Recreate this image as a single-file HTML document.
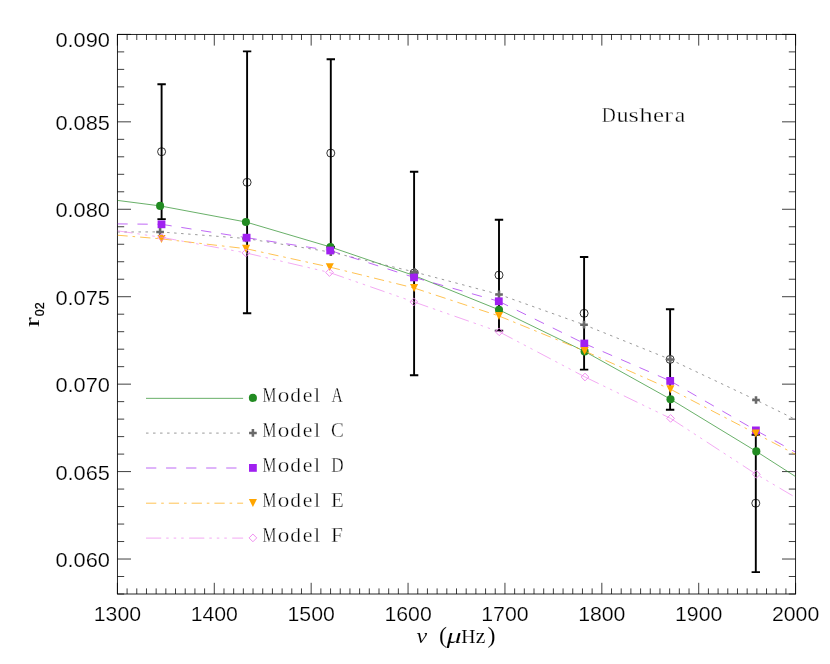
<!DOCTYPE html>
<html><head><meta charset="utf-8"><title>r02 vs nu</title>
<style>
html,body{margin:0;padding:0;background:#fff;}
body{width:830px;height:664px;overflow:hidden;font-family:"Liberation Sans",sans-serif;}
svg{display:block;will-change:transform}
.t{font-family:"Liberation Sans",sans-serif;font-size:19.4px;fill:#000;stroke:#fff;stroke-width:0.2px}
.s{font-family:"Liberation Serif",serif;font-size:20px;fill:#000;stroke:#fff;stroke-width:0.2px}
</style></head><body>
<svg width="830" height="664" viewBox="0 0 830 664">
<rect width="830" height="664" fill="#fff"/>
<defs><clipPath id="c"><rect x="117.4" y="34.4" width="678.2" height="559.6"/></clipPath></defs>
<path d="M117.40 34.4v11.2M117.40 594.0v-11.2M127.09 34.4v5.6M127.09 594.0v-5.6M136.78 34.4v5.6M136.78 594.0v-5.6M146.47 34.4v5.6M146.47 594.0v-5.6M156.15 34.4v5.6M156.15 594.0v-5.6M165.84 34.4v5.6M165.84 594.0v-5.6M175.53 34.4v5.6M175.53 594.0v-5.6M185.22 34.4v5.6M185.22 594.0v-5.6M194.91 34.4v5.6M194.91 594.0v-5.6M204.60 34.4v5.6M204.60 594.0v-5.6M214.29 34.4v11.2M214.29 594.0v-11.2M223.97 34.4v5.6M223.97 594.0v-5.6M233.66 34.4v5.6M233.66 594.0v-5.6M243.35 34.4v5.6M243.35 594.0v-5.6M253.04 34.4v5.6M253.04 594.0v-5.6M262.73 34.4v5.6M262.73 594.0v-5.6M272.42 34.4v5.6M272.42 594.0v-5.6M282.11 34.4v5.6M282.11 594.0v-5.6M291.79 34.4v5.6M291.79 594.0v-5.6M301.48 34.4v5.6M301.48 594.0v-5.6M311.17 34.4v11.2M311.17 594.0v-11.2M320.86 34.4v5.6M320.86 594.0v-5.6M330.55 34.4v5.6M330.55 594.0v-5.6M340.24 34.4v5.6M340.24 594.0v-5.6M349.93 34.4v5.6M349.93 594.0v-5.6M359.61 34.4v5.6M359.61 594.0v-5.6M369.30 34.4v5.6M369.30 594.0v-5.6M378.99 34.4v5.6M378.99 594.0v-5.6M388.68 34.4v5.6M388.68 594.0v-5.6M398.37 34.4v5.6M398.37 594.0v-5.6M408.06 34.4v11.2M408.06 594.0v-11.2M417.75 34.4v5.6M417.75 594.0v-5.6M427.43 34.4v5.6M427.43 594.0v-5.6M437.12 34.4v5.6M437.12 594.0v-5.6M446.81 34.4v5.6M446.81 594.0v-5.6M456.50 34.4v5.6M456.50 594.0v-5.6M466.19 34.4v5.6M466.19 594.0v-5.6M475.88 34.4v5.6M475.88 594.0v-5.6M485.57 34.4v5.6M485.57 594.0v-5.6M495.25 34.4v5.6M495.25 594.0v-5.6M504.94 34.4v11.2M504.94 594.0v-11.2M514.63 34.4v5.6M514.63 594.0v-5.6M524.32 34.4v5.6M524.32 594.0v-5.6M534.01 34.4v5.6M534.01 594.0v-5.6M543.70 34.4v5.6M543.70 594.0v-5.6M553.39 34.4v5.6M553.39 594.0v-5.6M563.07 34.4v5.6M563.07 594.0v-5.6M572.76 34.4v5.6M572.76 594.0v-5.6M582.45 34.4v5.6M582.45 594.0v-5.6M592.14 34.4v5.6M592.14 594.0v-5.6M601.83 34.4v11.2M601.83 594.0v-11.2M611.52 34.4v5.6M611.52 594.0v-5.6M621.21 34.4v5.6M621.21 594.0v-5.6M630.89 34.4v5.6M630.89 594.0v-5.6M640.58 34.4v5.6M640.58 594.0v-5.6M650.27 34.4v5.6M650.27 594.0v-5.6M659.96 34.4v5.6M659.96 594.0v-5.6M669.65 34.4v5.6M669.65 594.0v-5.6M679.34 34.4v5.6M679.34 594.0v-5.6M689.03 34.4v5.6M689.03 594.0v-5.6M698.71 34.4v11.2M698.71 594.0v-11.2M708.40 34.4v5.6M708.40 594.0v-5.6M718.09 34.4v5.6M718.09 594.0v-5.6M727.78 34.4v5.6M727.78 594.0v-5.6M737.47 34.4v5.6M737.47 594.0v-5.6M747.16 34.4v5.6M747.16 594.0v-5.6M756.85 34.4v5.6M756.85 594.0v-5.6M766.53 34.4v5.6M766.53 594.0v-5.6M776.22 34.4v5.6M776.22 594.0v-5.6M785.91 34.4v5.6M785.91 594.0v-5.6M795.60 34.4v11.2M795.60 594.0v-11.2M117.4 34.40h13.6M795.6 34.40h-13.6M117.4 51.89h6.8M795.6 51.89h-6.8M117.4 69.38h6.8M795.6 69.38h-6.8M117.4 86.86h6.8M795.6 86.86h-6.8M117.4 104.35h6.8M795.6 104.35h-6.8M117.4 121.84h13.6M795.6 121.84h-13.6M117.4 139.33h6.8M795.6 139.33h-6.8M117.4 156.81h6.8M795.6 156.81h-6.8M117.4 174.30h6.8M795.6 174.30h-6.8M117.4 191.79h6.8M795.6 191.79h-6.8M117.4 209.27h13.6M795.6 209.27h-13.6M117.4 226.76h6.8M795.6 226.76h-6.8M117.4 244.25h6.8M795.6 244.25h-6.8M117.4 261.74h6.8M795.6 261.74h-6.8M117.4 279.22h6.8M795.6 279.22h-6.8M117.4 296.71h13.6M795.6 296.71h-13.6M117.4 314.20h6.8M795.6 314.20h-6.8M117.4 331.69h6.8M795.6 331.69h-6.8M117.4 349.18h6.8M795.6 349.18h-6.8M117.4 366.66h6.8M795.6 366.66h-6.8M117.4 384.15h13.6M795.6 384.15h-13.6M117.4 401.64h6.8M795.6 401.64h-6.8M117.4 419.12h6.8M795.6 419.12h-6.8M117.4 436.61h6.8M795.6 436.61h-6.8M117.4 454.10h6.8M795.6 454.10h-6.8M117.4 471.59h13.6M795.6 471.59h-13.6M117.4 489.07h6.8M795.6 489.07h-6.8M117.4 506.56h6.8M795.6 506.56h-6.8M117.4 524.05h6.8M795.6 524.05h-6.8M117.4 541.54h6.8M795.6 541.54h-6.8M117.4 559.02h13.6M795.6 559.02h-13.6M117.4 576.51h6.8M795.6 576.51h-6.8M117.4 594.00h6.8M795.6 594.00h-6.8" stroke="#000" stroke-width="0.75" fill="none"/>
<rect x="117.4" y="34.4" width="678.2" height="559.6" fill="none" stroke="#000" stroke-width="0.85"/>
<text class="t" x="117.4" y="621.2" text-anchor="middle" textLength="47.3" lengthAdjust="spacingAndGlyphs">1300</text>
<text class="t" x="214.3" y="621.2" text-anchor="middle" textLength="47.3" lengthAdjust="spacingAndGlyphs">1400</text>
<text class="t" x="311.2" y="621.2" text-anchor="middle" textLength="47.3" lengthAdjust="spacingAndGlyphs">1500</text>
<text class="t" x="408.1" y="621.2" text-anchor="middle" textLength="47.3" lengthAdjust="spacingAndGlyphs">1600</text>
<text class="t" x="504.9" y="621.2" text-anchor="middle" textLength="47.3" lengthAdjust="spacingAndGlyphs">1700</text>
<text class="t" x="601.8" y="621.2" text-anchor="middle" textLength="47.3" lengthAdjust="spacingAndGlyphs">1800</text>
<text class="t" x="698.7" y="621.2" text-anchor="middle" textLength="47.3" lengthAdjust="spacingAndGlyphs">1900</text>
<text class="t" x="795.6" y="621.2" text-anchor="middle" textLength="47.3" lengthAdjust="spacingAndGlyphs">2000</text>
<text class="t" x="110.0" y="47.0" text-anchor="end" textLength="54.6" lengthAdjust="spacingAndGlyphs">0.090</text>
<text class="t" x="110.0" y="129.7" text-anchor="end" textLength="54.6" lengthAdjust="spacingAndGlyphs">0.085</text>
<text class="t" x="110.0" y="217.2" text-anchor="end" textLength="54.6" lengthAdjust="spacingAndGlyphs">0.080</text>
<text class="t" x="110.0" y="304.6" text-anchor="end" textLength="54.6" lengthAdjust="spacingAndGlyphs">0.075</text>
<text class="t" x="110.0" y="392.1" text-anchor="end" textLength="54.6" lengthAdjust="spacingAndGlyphs">0.070</text>
<text class="t" x="110.0" y="479.5" text-anchor="end" textLength="54.6" lengthAdjust="spacingAndGlyphs">0.065</text>
<text class="t" x="110.0" y="566.9" text-anchor="end" textLength="54.6" lengthAdjust="spacingAndGlyphs">0.060</text>
<g clip-path="url(#c)">
<path d="M161.6 84.2V219.1M157.4 84.2h8.4M157.4 219.1h8.4M247.1 51.4V313.2M242.9 51.4h8.4M242.9 313.2h8.4M330.8 59.3V246.9M326.6 59.3h8.4M326.6 246.9h8.4M414.1 171.7V375.2M409.9 171.7h8.4M409.9 375.2h8.4M499.0 219.8V330.6M494.8 219.8h8.4M494.8 330.6h8.4M584.1 257.0V369.6M579.9 257.0h8.4M579.9 369.6h8.4M670.1 309.3V409.7M665.9 309.3h8.4M665.9 409.7h8.4M755.8 434.8V572.1M751.6 434.8h8.4M751.6 572.1h8.4" stroke="#000" stroke-width="1.9" fill="none"/>
<circle cx="161.6" cy="151.7" r="4.0" fill="none" stroke="#000" stroke-width="0.8"/>
<circle cx="247.1" cy="182.3" r="4.0" fill="none" stroke="#000" stroke-width="0.8"/>
<circle cx="330.8" cy="153.1" r="4.0" fill="none" stroke="#000" stroke-width="0.8"/>
<circle cx="414.1" cy="273.0" r="4.0" fill="none" stroke="#000" stroke-width="0.8"/>
<circle cx="499.0" cy="275.1" r="4.0" fill="none" stroke="#000" stroke-width="0.8"/>
<circle cx="584.1" cy="313.3" r="4.0" fill="none" stroke="#000" stroke-width="0.8"/>
<circle cx="670.1" cy="359.4" r="4.0" fill="none" stroke="#000" stroke-width="0.8"/>
<circle cx="755.8" cy="503.2" r="4.0" fill="none" stroke="#000" stroke-width="0.8"/>
<path d="M117.4 200.4L160.1 205.9M160.1 205.9L245.9 222.0M245.9 222.0L330.5 247.0M330.5 247.0L414.0 275.5M414.0 275.5L499.0 309.8M499.0 309.8L584.6 351.4M584.6 351.4L670.5 399.2M670.5 399.2L756.3 451.4M756.3 451.4L795.6 476.6" stroke="#228B22" stroke-width="0.68" fill="none"/>
<circle cx="160.1" cy="205.9" r="4.05" fill="#228B22"/>
<circle cx="245.9" cy="222.0" r="4.05" fill="#228B22"/>
<circle cx="330.5" cy="247.0" r="4.05" fill="#228B22"/>
<circle cx="414.0" cy="275.5" r="4.05" fill="#228B22"/>
<circle cx="499.0" cy="309.8" r="4.05" fill="#228B22"/>
<circle cx="584.6" cy="351.4" r="4.05" fill="#228B22"/>
<circle cx="670.5" cy="399.2" r="4.05" fill="#228B22"/>
<circle cx="756.3" cy="451.4" r="4.05" fill="#228B22"/>
<path d="M117.4 232.0L160.1 231.9M160.1 231.9L246.0 238.5M246.0 238.5L330.8 252.1M330.8 252.1L414.6 272.0M414.6 272.0L499.0 294.4M499.0 294.4L584.0 324.7M584.0 324.7L670.2 359.4M670.2 359.4L756.0 400.0L795.6 419.5" stroke="#696969" stroke-width="0.68" fill="none" stroke-dasharray="2.5 4.52"/>
<path d="M156.25 231.9H163.95M160.1 228.05V235.75" stroke="#696969" stroke-width="2.55" fill="none"/>
<path d="M242.15 238.5H249.85M246.0 234.65V242.35" stroke="#696969" stroke-width="2.55" fill="none"/>
<path d="M326.95 252.1H334.65M330.8 248.25V255.95" stroke="#696969" stroke-width="2.55" fill="none"/>
<path d="M410.75 272.0H418.45M414.6 268.15V275.85" stroke="#696969" stroke-width="2.55" fill="none"/>
<path d="M495.15 294.4H502.85M499.0 290.55V298.25" stroke="#696969" stroke-width="2.55" fill="none"/>
<path d="M580.15 324.7H587.85M584.0 320.85V328.55" stroke="#696969" stroke-width="2.55" fill="none"/>
<path d="M666.35 359.4H674.05M670.2 355.55V363.25" stroke="#696969" stroke-width="2.55" fill="none"/>
<path d="M752.15 400.0H759.85M756.0 396.15V403.85" stroke="#696969" stroke-width="2.55" fill="none"/>
<path d="M117.4 223.9L161.5 224.3M161.5 224.3L246.6 237.7M246.6 237.7L330.2 250.5M330.2 250.5L414.0 277.4M414.0 277.4L498.8 301.3M498.8 301.3L584.3 343.5M584.3 343.5L670.2 380.9M670.2 380.9L755.9 430.4L795.6 452.2" stroke="#A020F0" stroke-width="0.68" fill="none" stroke-dasharray="10.3 9.75"/>
<rect x="157.6" y="220.4" width="7.8" height="7.8" fill="#A020F0"/>
<rect x="242.7" y="233.8" width="7.8" height="7.8" fill="#A020F0"/>
<rect x="326.3" y="246.6" width="7.8" height="7.8" fill="#A020F0"/>
<rect x="410.1" y="273.5" width="7.8" height="7.8" fill="#A020F0"/>
<rect x="494.9" y="297.4" width="7.8" height="7.8" fill="#A020F0"/>
<rect x="580.4" y="339.6" width="7.8" height="7.8" fill="#A020F0"/>
<rect x="666.3" y="377.0" width="7.8" height="7.8" fill="#A020F0"/>
<rect x="752.0" y="426.5" width="7.8" height="7.8" fill="#A020F0"/>
<path d="M117.4 235.2L161.5 238.9M161.5 238.9L246.1 248.7M246.1 248.7L329.8 267.1M329.8 267.1L414.1 288.0M414.1 288.0L499.0 316.0M499.0 316.0L584.6 351.0M584.6 351.0L670.4 389.2M670.4 389.2L755.8 433.5L795.6 454.4" stroke="#FFA500" stroke-width="0.68" fill="none" stroke-dasharray="10.3 4.9 2.6 5.0"/>
<path d="M157.45 235.05H165.55L161.5 242.95Z" fill="#FFA500"/>
<path d="M242.05 244.80H250.15L246.1 252.70Z" fill="#FFA500"/>
<path d="M325.75 263.20H333.85L329.8 271.10Z" fill="#FFA500"/>
<path d="M410.05 284.10H418.15L414.1 292.00Z" fill="#FFA500"/>
<path d="M494.95 312.10H503.05L499.0 320.00Z" fill="#FFA500"/>
<path d="M580.55 347.10H588.65L584.6 355.00Z" fill="#FFA500"/>
<path d="M666.35 385.30H674.45L670.4 393.20Z" fill="#FFA500"/>
<path d="M751.75 429.60H759.85L755.8 437.50Z" fill="#FFA500"/>
<path d="M117.4 230.8L161.5 237.3M161.5 237.3L245.9 252.9M245.9 252.9L329.5 272.5M329.5 272.5L413.8 301.9M413.8 301.9L499.2 331.8M499.2 331.8L585.0 377.0M585.0 377.0L670.6 418.4M670.6 418.4L756.3 474.3L795.6 497.5" stroke="#EE82EE" stroke-width="0.68" fill="none" stroke-dasharray="15.2 5 2.5 5 2.5 5 2.5 5.4"/>
<path d="M157.65 237.3L161.5 233.45L165.35 237.3L161.5 241.15Z" fill="none" stroke="#EE82EE" stroke-width="0.9"/>
<path d="M242.05 252.9L245.9 249.05L249.75 252.9L245.9 256.75Z" fill="none" stroke="#EE82EE" stroke-width="0.9"/>
<path d="M325.65 272.5L329.5 268.65L333.35 272.5L329.5 276.35Z" fill="none" stroke="#EE82EE" stroke-width="0.9"/>
<path d="M409.95 301.9L413.8 298.05L417.65 301.9L413.8 305.75Z" fill="none" stroke="#EE82EE" stroke-width="0.9"/>
<path d="M495.35 331.8L499.2 327.95L503.05 331.8L499.2 335.65Z" fill="none" stroke="#EE82EE" stroke-width="0.9"/>
<path d="M581.15 377.0L585.0 373.15L588.85 377.0L585.0 380.85Z" fill="none" stroke="#EE82EE" stroke-width="0.9"/>
<path d="M666.75 418.4L670.6 414.55L674.45 418.4L670.6 422.25Z" fill="none" stroke="#EE82EE" stroke-width="0.9"/>
<path d="M752.45 474.3L756.3 470.45L760.15 474.3L756.3 478.15Z" fill="none" stroke="#EE82EE" stroke-width="0.9"/>
</g>
<path d="M146.0 398.35H243.1" stroke="#228B22" stroke-width="0.68" fill="none"/>
<circle cx="252.9" cy="397.9" r="4.05" fill="#228B22"/>
<g class="s" style="font-size:20.3px;stroke-width:0.32px"><text x="262.45" y="402.1" textLength="13.91" lengthAdjust="spacingAndGlyphs">M</text><text x="277.72" y="402.1" textLength="11.56" lengthAdjust="spacingAndGlyphs">o</text><text x="290.32" y="402.1" textLength="10.74" lengthAdjust="spacingAndGlyphs">d</text><text x="302.75" y="402.1" textLength="9.71" lengthAdjust="spacingAndGlyphs">e</text><text x="314.06" y="402.1" textLength="6.08" lengthAdjust="spacingAndGlyphs">l</text><text x="331.55" y="402.1" textLength="11.27" lengthAdjust="spacingAndGlyphs">A</text></g>
<path d="M146.0 433.1H243.1" stroke="#696969" stroke-width="0.68" fill="none" stroke-dasharray="2.5 4.52"/>
<path d="M249.05 432.9H256.75M252.9 429.05V436.75" stroke="#696969" stroke-width="2.55" fill="none"/>
<g class="s" style="font-size:20.3px;stroke-width:0.32px"><text x="262.45" y="437.0" textLength="13.91" lengthAdjust="spacingAndGlyphs">M</text><text x="277.72" y="437.0" textLength="11.56" lengthAdjust="spacingAndGlyphs">o</text><text x="290.32" y="437.0" textLength="10.74" lengthAdjust="spacingAndGlyphs">d</text><text x="302.75" y="437.0" textLength="9.71" lengthAdjust="spacingAndGlyphs">e</text><text x="314.06" y="437.0" textLength="6.08" lengthAdjust="spacingAndGlyphs">l</text><text x="330.92" y="437.0" textLength="12.74" lengthAdjust="spacingAndGlyphs">C</text></g>
<path d="M146.0 468.0H243.1" stroke="#A020F0" stroke-width="0.68" fill="none" stroke-dasharray="10.3 9.75"/>
<rect x="249.0" y="464.0" width="7.8" height="7.8" fill="#A020F0"/>
<g class="s" style="font-size:20.3px;stroke-width:0.32px"><text x="262.45" y="472.0" textLength="13.91" lengthAdjust="spacingAndGlyphs">M</text><text x="277.72" y="472.0" textLength="11.56" lengthAdjust="spacingAndGlyphs">o</text><text x="290.32" y="472.0" textLength="10.74" lengthAdjust="spacingAndGlyphs">d</text><text x="302.75" y="472.0" textLength="9.71" lengthAdjust="spacingAndGlyphs">e</text><text x="314.06" y="472.0" textLength="6.08" lengthAdjust="spacingAndGlyphs">l</text><text x="331.21" y="472.0" textLength="12.38" lengthAdjust="spacingAndGlyphs">D</text></g>
<path d="M146.0 503.2H243.1" stroke="#FFA500" stroke-width="0.68" fill="none" stroke-dasharray="10.3 4.9 2.6 5.0"/>
<path d="M248.85 499.10H256.95L252.9 507.00Z" fill="#FFA500"/>
<g class="s" style="font-size:20.3px;stroke-width:0.32px"><text x="262.45" y="507.1" textLength="13.91" lengthAdjust="spacingAndGlyphs">M</text><text x="277.72" y="507.1" textLength="11.56" lengthAdjust="spacingAndGlyphs">o</text><text x="290.32" y="507.1" textLength="10.74" lengthAdjust="spacingAndGlyphs">d</text><text x="302.75" y="507.1" textLength="9.71" lengthAdjust="spacingAndGlyphs">e</text><text x="314.06" y="507.1" textLength="6.08" lengthAdjust="spacingAndGlyphs">l</text><text x="331.10" y="507.1" textLength="12.74" lengthAdjust="spacingAndGlyphs">E</text></g>
<path d="M146.0 538.1H243.1" stroke="#EE82EE" stroke-width="0.68" fill="none" stroke-dasharray="15.2 5 2.5 5 2.5 5 2.5 5.4"/>
<path d="M249.05 537.9L252.9 534.05L256.75 537.9L252.9 541.75Z" fill="none" stroke="#EE82EE" stroke-width="0.9"/>
<g class="s" style="font-size:20.3px;stroke-width:0.32px"><text x="262.45" y="542.0" textLength="13.91" lengthAdjust="spacingAndGlyphs">M</text><text x="277.72" y="542.0" textLength="11.56" lengthAdjust="spacingAndGlyphs">o</text><text x="290.32" y="542.0" textLength="10.74" lengthAdjust="spacingAndGlyphs">d</text><text x="302.75" y="542.0" textLength="9.71" lengthAdjust="spacingAndGlyphs">e</text><text x="314.06" y="542.0" textLength="6.08" lengthAdjust="spacingAndGlyphs">l</text><text x="331.08" y="542.0" textLength="11.89" lengthAdjust="spacingAndGlyphs">F</text></g>
<g class="s" style="font-size:21px;stroke-width:0.32px"><text x="601.64" y="122.0" textLength="14.04" lengthAdjust="spacingAndGlyphs">D</text><text x="616.48" y="122.0" textLength="12.13" lengthAdjust="spacingAndGlyphs">u</text><text x="628.51" y="122.0" textLength="10.35" lengthAdjust="spacingAndGlyphs">s</text><text x="639.34" y="122.0" textLength="13.52" lengthAdjust="spacingAndGlyphs">h</text><text x="653.03" y="122.0" textLength="11.03" lengthAdjust="spacingAndGlyphs">e</text><text x="663.95" y="122.0" textLength="9.09" lengthAdjust="spacingAndGlyphs">r</text><text x="674.76" y="122.0" textLength="10.56" lengthAdjust="spacingAndGlyphs">a</text></g>
<g class="s" style="stroke-width:0.1px"><text x="416.6" y="643.0" style="font-size:21.5px;font-style:italic" textLength="10.6" lengthAdjust="spacingAndGlyphs">ν</text><text x="438.9" y="643.4" style="font-size:24px">(</text><text x="446.4" y="643.0" style="font-size:21.5px;font-style:italic" textLength="15.2" lengthAdjust="spacingAndGlyphs">μ</text><text x="461.2" y="643.0" style="font-size:19px" textLength="14.2" lengthAdjust="spacingAndGlyphs">H</text><text x="475.8" y="643.0" style="font-size:21px" textLength="9.6" lengthAdjust="spacingAndGlyphs">z</text><text x="487.6" y="643.4" style="font-size:24px">)</text></g>
<g transform="translate(38.9,326.8) rotate(-90)"><text class="s" x="-0.3" y="0" style="font-size:22px;stroke:none" textLength="9.7" lengthAdjust="spacingAndGlyphs">r</text><text x="10.6" y="5.2" style="font-family:'Liberation Sans',sans-serif;font-size:13px;fill:#000;stroke:#000;stroke-width:0.3px" textLength="13.9" lengthAdjust="spacingAndGlyphs">02</text></g>
</svg></body></html>
